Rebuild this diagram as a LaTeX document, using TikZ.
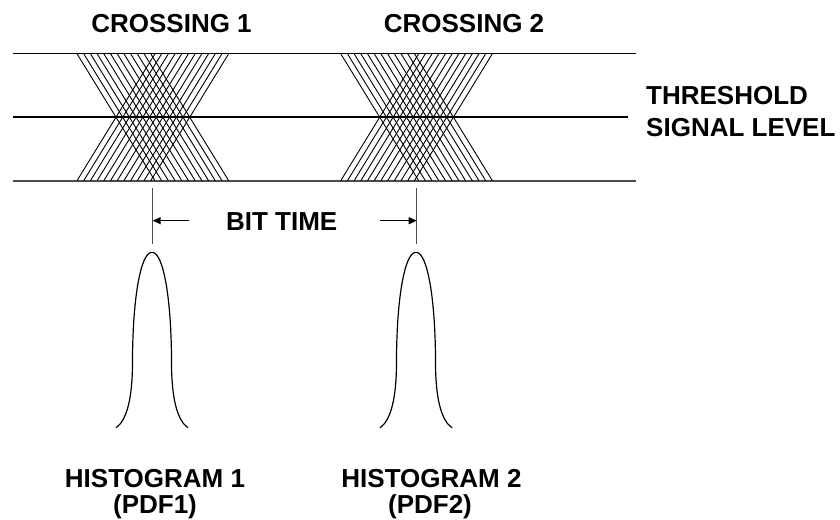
\documentclass[tikz,border=0pt]{standalone}
\usepackage{fontspec}
\setmainfont{Liberation Sans}
\usetikzlibrary{arrows.meta}
\begin{document}
\begin{tikzpicture}[x=1pt,y=-1pt,
  lbl/.style={font=\bfseries\fontsize{26}{30}\selectfont, inner sep=0pt},
  level/.style={line width=1.3pt},
  eye/.style={line width=0.9pt},
  marker/.style={line width=1.4pt, draw=black!70},
  dimarrow/.style={line width=1.1pt, -{Triangle[length=8pt,width=7pt]}},
  pdf/.style={line width=1.2pt}]
\useasboundingbox (0,0) rectangle (840,519);
% signal levels
\coordinate (topL) at (13,53.7);   \coordinate (topR) at (636,53.7);
\coordinate (midL) at (13,117);    \coordinate (midR) at (628,117);
\coordinate (botL) at (13,180.7);  \coordinate (botR) at (636,180.7);
\draw[level] (topL) -- (topR);
\draw[level] (midL) -- (midR);
\draw[level, line width=2pt, draw=black!70] (botL) -- (botR);
% crossings
\foreach \s in {77,340.7}{
  \foreach \i in {0,...,11}{
    \draw[eye] ({\s+6.7*\i},53.7) -- ({\s+78+6.7*\i},180.7);
    \draw[eye] ({\s+6.7*\i},180.7) -- ({\s+78+6.7*\i},53.7);
  }
}
% labels
\node[lbl, anchor=base] (c1) at (171.5,32.3) {CROSSING 1};
\node[lbl, anchor=base] (c2) at (464,32.3) {CROSSING 2};
\node[lbl, anchor=base west] (thr) at (646,104) {THRESHOLD};
\node[lbl, anchor=base west] (sig) at (646,136.7) {SIGNAL LEVEL};
% bit time
\coordinate (v1t) at (152.7,188); \coordinate (v1b) at (152.7,244);
\coordinate (v2t) at (416.7,188); \coordinate (v2b) at (416.7,244);
\draw[marker] (v1t) -- (v1b);
\draw[marker] (v2t) -- (v2b);
\coordinate (a1) at (152.7,220.7); \coordinate (a1s) at (189,220.7);
\coordinate (a2) at (416.7,220.7); \coordinate (a2s) at (380,220.7);
\draw[dimarrow] (a1s) -- (a1);
\draw[dimarrow] (a2s) -- (a2);
\node[lbl, anchor=base] (bt) at (281.7,230) {BIT TIME};
% histograms
\foreach \c in {152,416}{
  \begin{scope}[shift={(\c,252.3)}]
  \draw[pdf] (-36,175.5) .. controls (-25,168) and (-19.5,145) .. (-19.5,110)
    .. controls (-19.5,50) and (-12,0) .. (0,0)
    .. controls (12,0) and (19.5,50) .. (19.5,110)
    .. controls (19.5,145) and (25,168) .. (36,175.5);
  \end{scope}
}
\node[lbl, anchor=base] (h1) at (155,487) {HISTOGRAM 1};
\node[lbl, anchor=base] (p1) at (155,513) {(PDF1)};
\node[lbl, anchor=base] (h2) at (431.5,487) {HISTOGRAM 2};
\node[lbl, anchor=base] (p2) at (430,513) {(PDF2)};
\end{tikzpicture}
\end{document}
